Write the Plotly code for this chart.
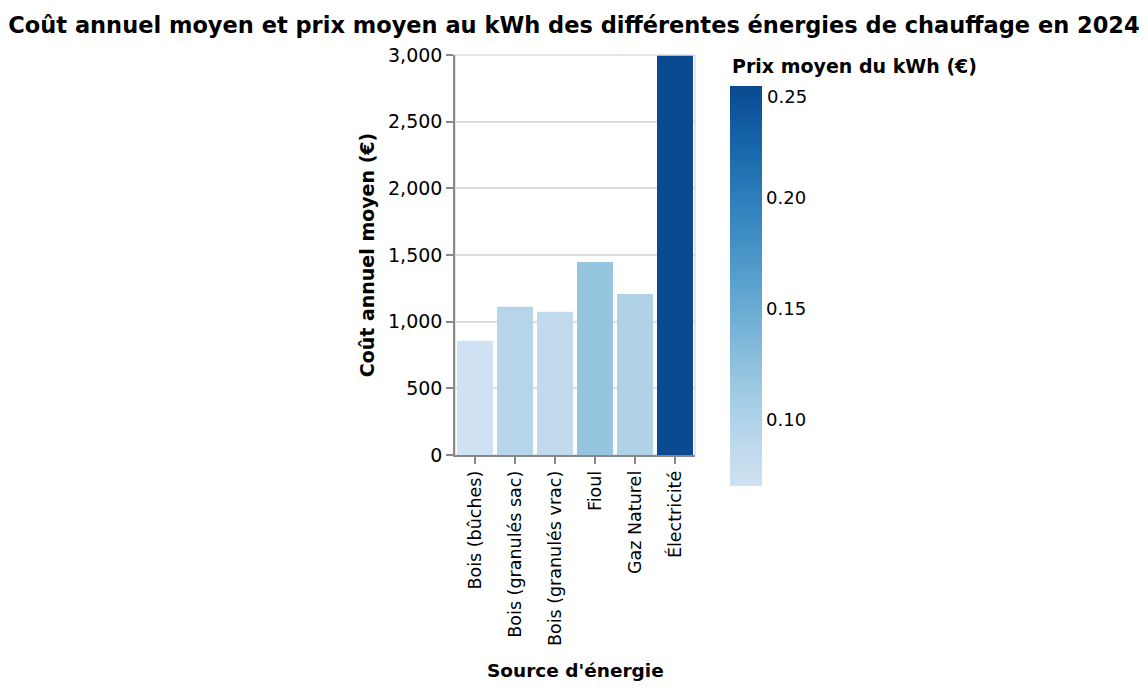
import plotly.graph_objects as go

categories = ["Bois (bûches)", "Bois (granulés sac)", "Bois (granulés vrac)", "Fioul", "Gaz Naturel", "Électricité"]
annual_cost = [857, 1112, 1075, 1447, 1207, 2995]
kwh_price = [0.0704, 0.094, 0.085, 0.119, 0.100, 0.25]
color_ticks = [0.10, 0.15, 0.20]
color_top_label = 0.25
y_ticks = [0, 500, 1000, 1500, 2000, 2500, 3000]

blues = ["#cfe1f2", "#bed8ec", "#a8cee5", "#8fc1de", "#74b2d7", "#5ba3cf",
         "#4592c6", "#3181bd", "#206fb2", "#125ca4", "#0a4a90"]
colorscale = [[i / (len(blues) - 1), c] for i, c in enumerate(blues)]

FONT = "DejaVu Sans, sans-serif"
OFF = 8  # page body margin
W, H = 1148 - 2 * OFF, 690 - 2 * OFF
L, R, T, B = 455 - OFF, 695 - OFF, 55 - OFF, 455 - OFF


def py(pix):
    """window pixel y -> paper y"""
    return (B - (pix - OFF)) / (B - T)


def px(pix):
    return ((pix - OFF) - L) / (R - L)


fig = go.Figure(go.Bar(
    x=categories, y=annual_cost,
    marker=dict(
        color=kwh_price, colorscale=colorscale,
        cmin=min(kwh_price), cmax=max(kwh_price),
        line=dict(width=0),
        colorbar=dict(
            x=px(730), xanchor="left",
            y=py(86), yanchor="top",
            lenmode="pixels", len=400,
            thicknessmode="pixels", thickness=32,
            outlinewidth=0, ticks="",
            tickvals=color_ticks, tickformat=".2f",
            tickfont=dict(family=FONT, size=18, color="#000"),
            xpad=0, ypad=0,
        ),
    ),
    hoverinfo="skip",
))

fig.update_layout(
    width=W, height=H,
    margin=dict(l=L, r=W - R, t=T, b=H - B, autoexpand=False),
    plot_bgcolor="white", paper_bgcolor="white",
    bargap=0.1,
    showlegend=False,
    title=dict(
        text="<b>Coût annuel moyen et prix moyen au kWh des différentes énergies de chauffage en 2024</b>",
        x=0.5, xref="container", xanchor="center",
        y=1 - (25 - OFF) / H, yref="container", yanchor="middle",
        font=dict(family=FONT, size=22.5, color="#000"),
    ),
    font=dict(family=FONT, color="#000"),
)

fig.update_xaxes(
    type="category", tickangle=-90, automargin=False,
    showline=True, linecolor="#888", linewidth=1.5,
    ticks="outside", ticklen=7, tickcolor="#888", tickwidth=1.5,
    tickfont=dict(family=FONT, size=17.5, color="#000"),
    showgrid=False,
)
fig.update_yaxes(
    range=[0, 3000], tickvals=y_ticks, tickformat=",", automargin=False,
    showline=True, linecolor="#888", linewidth=1.5,
    ticks="outside", ticklen=7, tickcolor="#888", tickwidth=1.5,
    showgrid=True, gridcolor="#dddddd", gridwidth=1.5,
    zeroline=False,
    tickfont=dict(family=FONT, size=19, color="#000"),
    title=dict(text="<b>Coût annuel moyen (€)</b>", font=dict(family=FONT, size=19, color="#000"), standoff=8),
)

fig.add_shape(type="rect", xref="paper", yref="paper", x0=0, x1=1, y0=0, y1=1,
              line=dict(color="#dddddd", width=1.5), layer="below")

fig.add_annotation(
    text="<b>Source d'énergie</b>",
    xref="paper", yref="paper",
    x=0.5, xanchor="center",
    y=py(670), yanchor="middle",
    showarrow=False,
    font=dict(family=FONT, size=18.5, color="#000"),
)
fig.add_annotation(
    text="<b>Prix moyen du kWh (€)</b>",
    xref="paper", yref="paper",
    x=px(730), xanchor="left",
    y=py(66), yanchor="middle",
    showarrow=False,
    font=dict(family=FONT, size=19, color="#000"),
)
fig.add_annotation(
    text=f"{color_top_label:.2f}",
    xref="paper", yref="paper",
    x=px(765), xanchor="left",
    y=py(96), yanchor="middle",
    showarrow=False,
    font=dict(family=FONT, size=18, color="#000"),
)

fig.write_html("out.html")
